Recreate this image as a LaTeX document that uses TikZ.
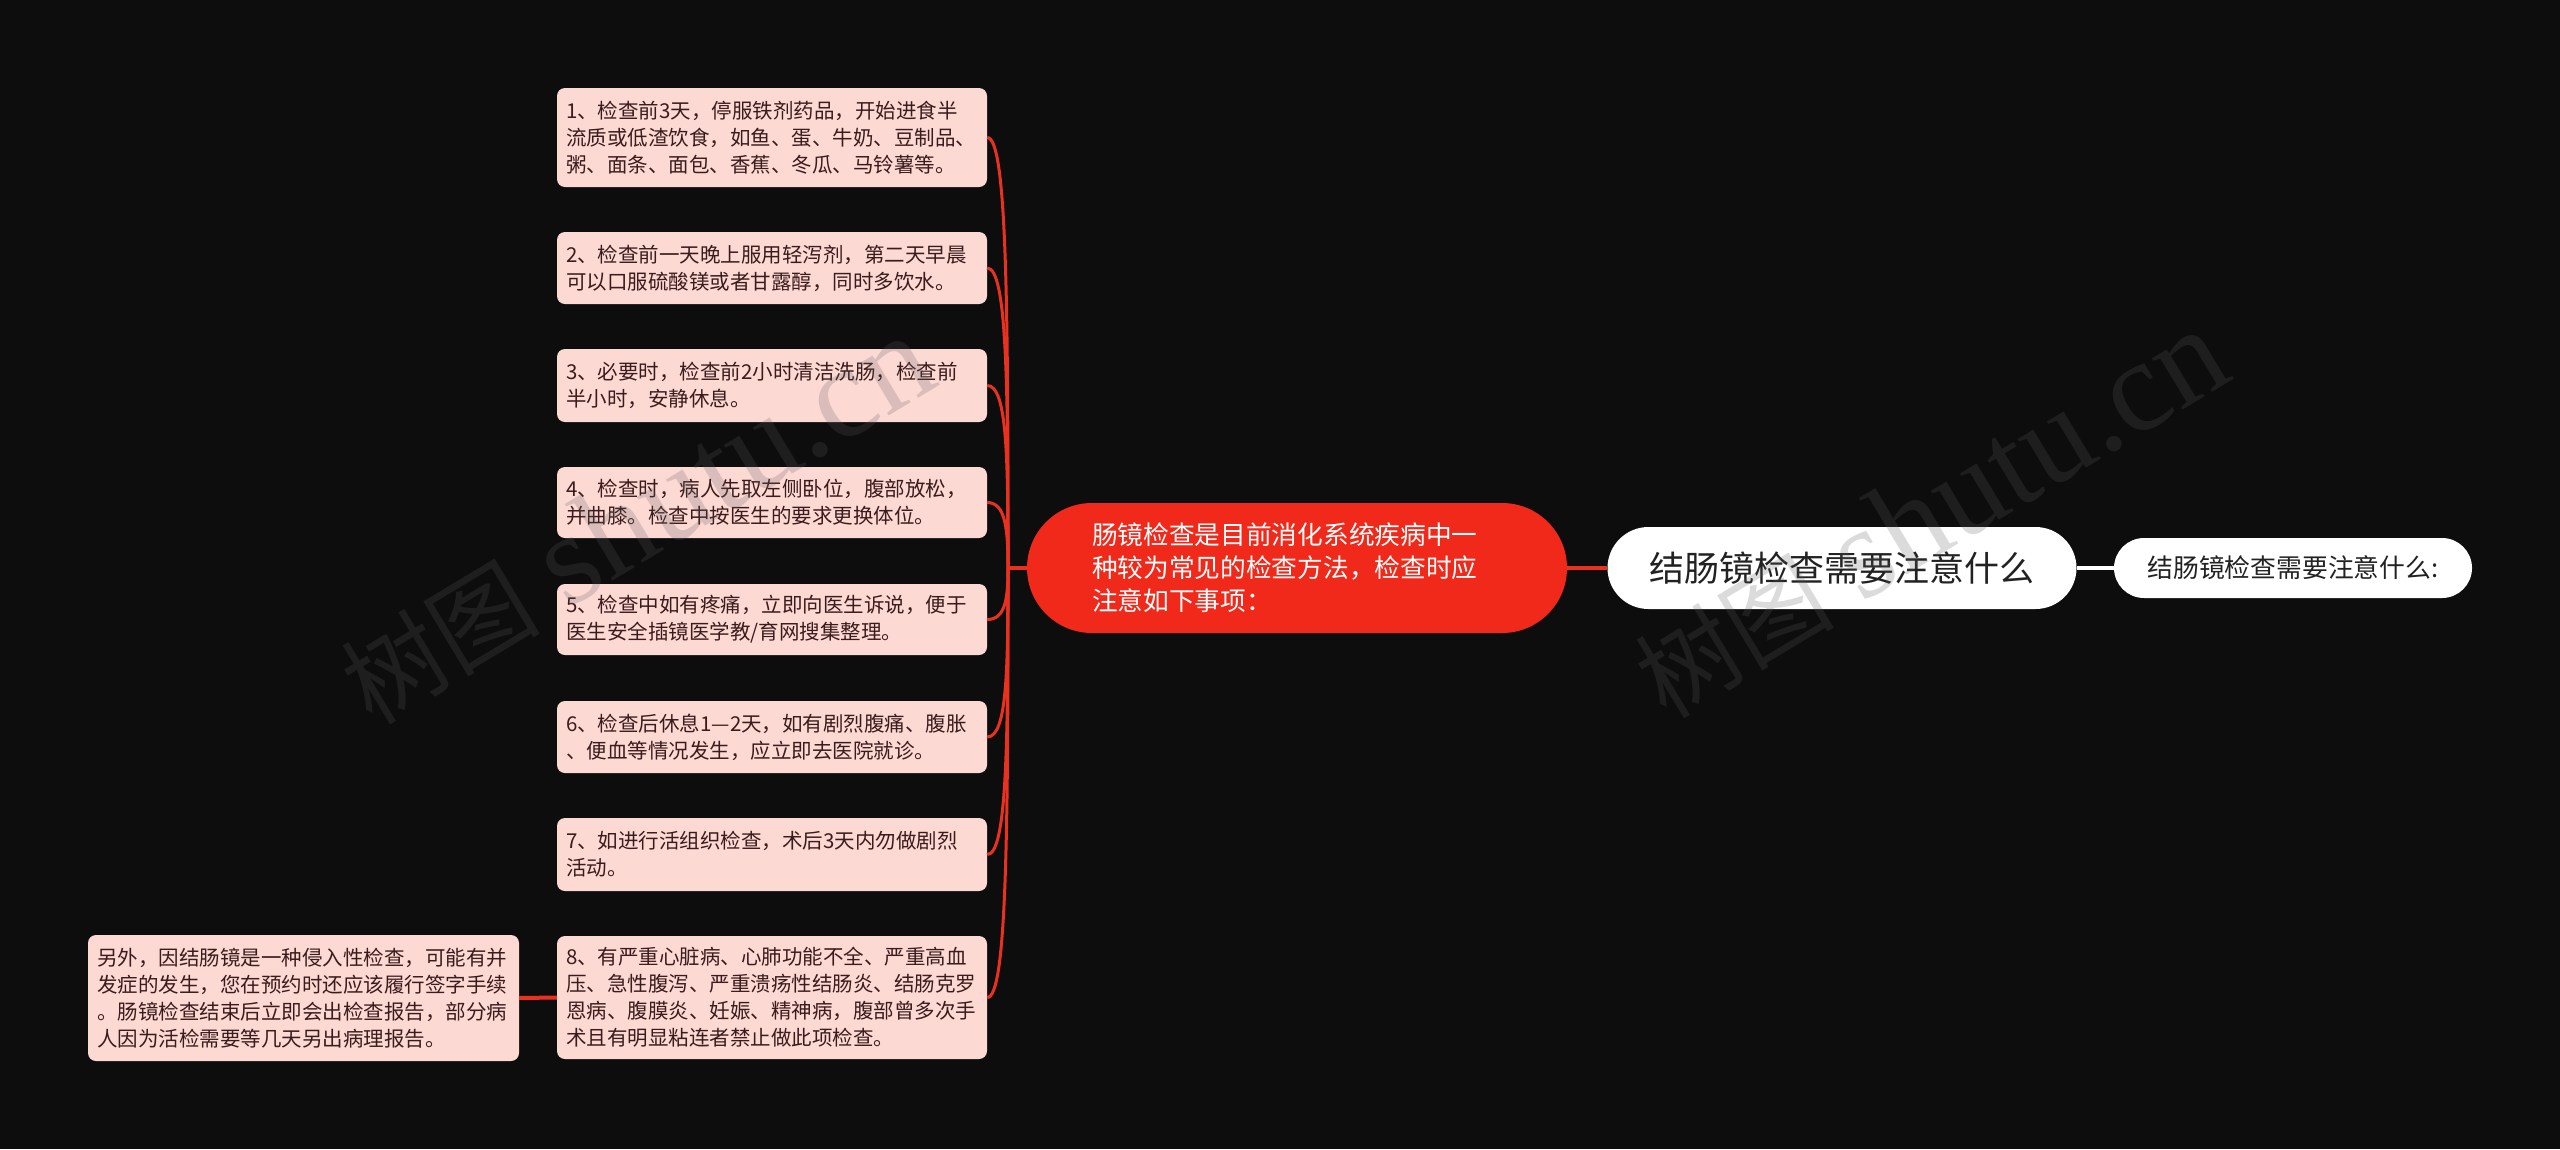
\documentclass[tikz,border=0pt]{standalone}
\usepackage{fontspec}
\setmainfont{Noto Sans CJK SC}
\newfontfamily\wmserif{Liberation Serif}
\newfontfamily\wmcjk{Noto Sans CJK SC}
\definecolor{bgc}{RGB}{13,13,13}
\definecolor{pinkfill}{RGB}{253,217,212}
\definecolor{boxtext}{RGB}{58,28,28}
\definecolor{mainred}{RGB}{240,41,26}
\definecolor{linered}{RGB}{232,50,31}
\definecolor{darktext}{RGB}{34,34,34}
\definecolor{wmgray}{RGB}{94,94,94}
\begin{document}
\begin{tikzpicture}[x=1pt,y=-1pt,
  pbox/.style={fill=pinkfill, rounded corners=8pt, text width=412pt, inner xsep=9pt, inner ysep=0pt,
    align=left, text=boxtext, font=\fontsize{20.5}{27}\selectfont},
  mainnode/.style={fill=mainred, rounded corners=65pt, text width=410pt, inner xsep=65pt, inner ysep=0pt,
    minimum height=130pt, align=left, text=white, font=\fontsize{25.7}{33}\selectfont},
  pill/.style={fill=white, text=darktext, inner sep=0pt, align=center},
  redcurve/.style={draw=linered, line width=3pt},
  redline/.style={draw=linered, line width=4pt},
  whiteline/.style={draw=white, line width=4pt},
  wm/.style={text=wmgray, opacity=0.22, rotate=31, inner sep=0pt}
]
\fill[bgc] (0,0) rectangle (2560,1149);
\useasboundingbox (0,0) rectangle (2560,1149);

\coordinate (hub) at (1008,568);

\node[pbox, minimum height=99pt] (b1) at (772,137.5) {1、检查前3天，停服铁剂药品，开始进食半\\流质或低渣饮食，如鱼、蛋、牛奶、豆制品、\\粥、面条、面包、香蕉、冬瓜、马铃薯等。};
\node[pbox, minimum height=72pt] (b2) at (772,268) {2、检查前一天晚上服用轻泻剂，第二天早晨\\可以口服硫酸镁或者甘露醇，同时多饮水。};
\node[pbox, minimum height=73pt] (b3) at (772,385.5) {3、必要时，检查前2小时清洁洗肠，检查前\\半小时，安静休息。};
\node[pbox, minimum height=71pt] (b4) at (772,502.5) {4、检查时，病人先取左侧卧位，腹部放松，\\并曲膝。检查中按医生的要求更换体位。};
\node[pbox, minimum height=71pt] (b5) at (772,619.5) {5、检查中如有疼痛，立即向医生诉说，便于\\医生安全插镜医学教/育网搜集整理。};
\node[pbox, minimum height=72pt] (b6) at (772,737) {6、检查后休息1—2天，如有剧烈腹痛、腹胀\\、便血等情况发生，应立即去医院就诊。};
\node[pbox, minimum height=73pt] (b7) at (772,854.5) {7、如进行活组织检查，术后3天内勿做剧烈\\活动。};
\node[pbox, minimum height=123pt] (b8) at (772,997.5) {8、有严重心脏病、心肺功能不全、严重高血\\压、急性腹泻、严重溃疡性结肠炎、结肠克罗\\恩病、腹膜炎、妊娠、精神病，腹部曾多次手\\术且有明显粘连者禁止做此项检查。};
\node[pbox, minimum height=126pt, text width=413pt] (lb) at (303.5,998) {另外，因结肠镜是一种侵入性检查，可能有并\\发症的发生，您在预约时还应该履行签字手续\\。肠镜检查结束后立即会出检查报告，部分病\\人因为活检需要等几天另出病理报告。};

\node[mainnode] (main) at (1297,568) {肠镜检查是目前消化系统疾病中一\\种较为常见的检查方法，检查时应\\注意如下事项：};
\node[pill, rounded corners=41pt, minimum width=469pt, minimum height=82pt, font=\fontsize{35}{40}\selectfont] (root) at (1842,568) {结肠镜检查需要注意什么};
\node[pill, rounded corners=30pt, minimum width=358pt, minimum height=60pt, font=\fontsize{25.8}{30}\selectfont] (rn) at (2293,568) {结肠镜检查需要注意什么:};

\draw[redcurve] (b1.east) .. controls +(20,0) and +(0,-258) .. (hub);
\draw[redcurve] (b2.east) .. controls +(20,0) and +(0,-180) .. (hub);
\draw[redcurve] (b3.east) .. controls +(20,0) and +(0,-110) .. (hub);
\draw[redcurve] (b4.east) .. controls +(18,0) and +(0,-40) .. (hub);
\draw[redcurve] (b5.east) .. controls +(18,0) and +(0,31) .. (hub);
\draw[redcurve] (b6.east) .. controls +(20,0) and +(0,101) .. (hub);
\draw[redcurve] (b7.east) .. controls +(20,0) and +(0,172) .. (hub);
\draw[redcurve] (b8.east) .. controls +(20,0) and +(0,258) .. (hub);
\draw[redline] (hub) -- (main.west);
\draw[redline] (main.east) -- (root.west);
\draw[whiteline] (root.east) -- (rn.west);
\draw[redline] (b8.west) -- (lb.east);

\node[wm] (wm1) at (636,520) {{\wmcjk\fontsize{100}{100}\selectfont 树图}\hspace{28pt}{\wmserif\fontsize{130}{130}\selectfont shutu.cn}};
\node[wm] (wm2) at (1930,514) {{\wmcjk\fontsize{100}{100}\selectfont 树图}\hspace{28pt}{\wmserif\fontsize{130}{130}\selectfont shutu.cn}};
\end{tikzpicture}
\end{document}
